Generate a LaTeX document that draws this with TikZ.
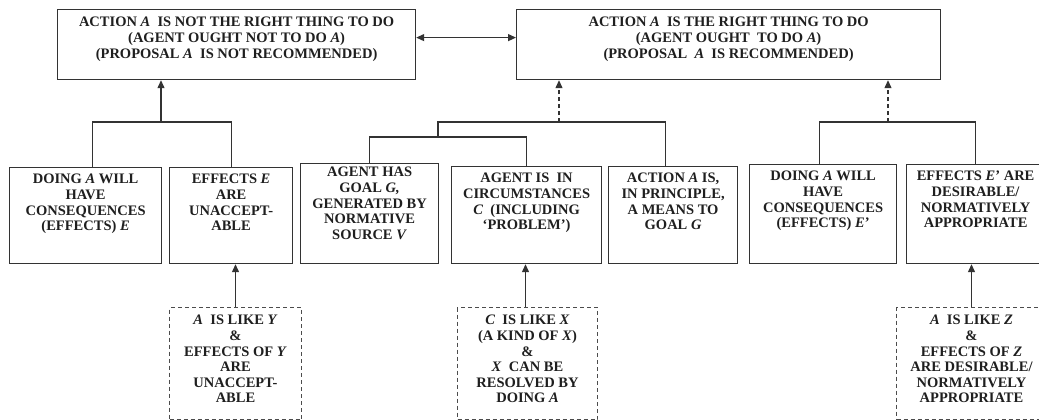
\documentclass[tikz,border=0pt]{standalone}
\usepackage{fontspec}
\setmainfont{Liberation Serif}
\usetikzlibrary{arrows.meta}
\begin{document}
\begin{tikzpicture}[x=1pt,y=-1pt,
  boxs/.style={draw=black!80, line width=1.2pt, inner sep=0pt, anchor=north west},
  dbox/.style={draw=black!70, line width=1pt, dash pattern=on 4pt off 3pt, inner sep=0pt, anchor=north west},
  txt/.style={anchor=north, inner sep=0pt, align=center, text=black!88,
    font=\fontsize{14.5}{15.6}\selectfont\bfseries},
  conn/.style={draw=black!80, line width=1.2pt},
  arr/.style={conn, -{Triangle[length=8pt,width=7pt]}},
  darr/.style={conn, dash pattern=on 4pt off 3pt, -{Triangle[length=8pt,width=7pt]}},
  arr2/.style={conn, {Triangle[length=8pt,width=7pt]}-{Triangle[length=8pt,width=7pt]}}
]
\useasboundingbox (0,0) rectangle (1039,420);
\fill[white] (0,0) rectangle (1039,420);

% top boxes
\node[boxs, minimum width=358pt, minimum height=70pt] (TL) at (57,9) {};
\node[boxs, minimum width=424pt, minimum height=70pt] (TR) at (516,9) {};
\node[txt] (tTL) at ([yshift=-8pt]TL.north) {ACTION \textit{A}\ \ IS NOT THE RIGHT THING TO DO\\(AGENT OUGHT NOT TO DO \textit{A})\\(PROPOSAL \textit{A}\ \ IS NOT RECOMMENDED)};
\node[txt] (tTR) at ([yshift=-8pt]TR.north) {ACTION \textit{A}\ \ IS THE RIGHT THING TO DO\\(AGENT OUGHT\ \ TO DO \textit{A})\\(PROPOSAL\ \ \textit{A}\ \ IS RECOMMENDED)};

% middle row boxes
\node[boxs, minimum width=152pt, minimum height=96pt] (b1) at (9,167) {};
\node[boxs, minimum width=123pt, minimum height=96pt] (b2) at (169,167) {};
\node[boxs, minimum width=138pt, minimum height=100pt] (b3) at (300,163) {};
\node[boxs, minimum width=150pt, minimum height=97pt] (b4) at (451,166) {};
\node[boxs, minimum width=129pt, minimum height=97pt] (b5) at (608,166) {};
\node[boxs, minimum width=147pt, minimum height=99pt] (b6) at (749,164) {};
\node[boxs, minimum width=138pt, minimum height=99pt] (b7) at (906,164) {};

\node[txt] (t1) at ([yshift=-7pt]b1.north) {DOING \textit{A}\ WILL\\HAVE\\CONSEQUENCES\\(EFFECTS) \textit{E}};
\node[txt] (t2) at ([yshift=-7pt]b2.north) {EFFECTS \textit{E}\\ARE\\UNACCEPT-\\ABLE};
\node[txt] (t3) at ([yshift=-4pt]b3.north) {AGENT HAS\\GOAL \textit{G,}\\GENERATED BY\\NORMATIVE\\SOURCE \textit{V}};
\node[txt] (t4) at ([yshift=-7pt]b4.north) {AGENT IS\ \ IN\\CIRCUMSTANCES\\\textit{C}\ \ (INCLUDING\\‘PROBLEM’)};
\node[txt] (t5) at ([yshift=-7pt]b5.north) {ACTION \textit{A} IS,\\IN PRINCIPLE,\\A MEANS TO\\GOAL \textit{G}};
\node[txt] (t6) at ([yshift=-7pt]b6.north) {DOING \textit{A} WILL\\HAVE\\CONSEQUENCES\\(EFFECTS) \textit{E}’};
\node[txt] (t7) at ([yshift=-7pt]b7.north) {EFFECTS \textit{E}’ ARE\\DESIRABLE/\\NORMATIVELY\\APPROPRIATE};

% dashed boxes
\node[dbox, minimum width=132pt, minimum height=112pt] (d1) at (169,307) {};
\node[dbox, minimum width=140pt, minimum height=112pt] (d2) at (457,307) {};
\node[dbox, minimum width=158pt, minimum height=112pt] (d3) at (896,307) {};
\node[txt] (td1) at ([yshift=-8pt]d1.north) {\textit{A}\ \ IS LIKE \textit{Y}\\\&\\EFFECTS OF \textit{Y}\\ARE\\UNACCEPT-\\ABLE};
\node[txt] (td2) at ([yshift=-8pt]d2.north) {\textit{C}\ \ IS LIKE \textit{X}\\(A KIND OF \textit{X})\\\&\\\textit{X}\ \ CAN BE\\RESOLVED BY\\DOING \textit{A}};
\node[txt] (td3) at ([xshift=-4pt,yshift=-8pt]d3.north) {\textit{A}\ \ IS LIKE \textit{Z}\\\&\\EFFECTS OF \textit{Z}\\ARE DESIRABLE/\\NORMATIVELY\\APPROPRIATE};

% junction coordinates
\coordinate (jL) at (161,122);
\coordinate (jM) at (559,122);
\coordinate (m2) at (438,137);
\coordinate (jR) at (888,122);

% connectors
\draw[arr2] ([yshift=7pt]TL.east) -- ([yshift=7pt]TR.west);

\draw[conn] ([xshift=7pt]b1.north) |- (jL) -| (b2.north);
\draw[arr] (jL) -- (jL |- TL.south);

\draw[conn] (b3.north) |- (b4.north |- m2) -- (b4.north);
\draw[conn] (m2) |- (jM) -| ([xshift=-7.5pt]b5.north);
\draw[darr] (jM) -- (jM |- TR.south);

\draw[conn] ([xshift=-3.5pt]b6.north) |- (jR) -| (b7.north);
\draw[darr] (jR) -- (jR |- TR.south);

\draw[arr] (d1.north) -- (d1.north |- b2.south);
\draw[arr] ([xshift=-2pt]d2.north) -- ([xshift=-2pt]d2.north |- b4.south);
\draw[arr] ([xshift=-4pt]d3.north) -- ([xshift=-4pt]d3.north |- b7.south);
\end{tikzpicture}
\end{document}
